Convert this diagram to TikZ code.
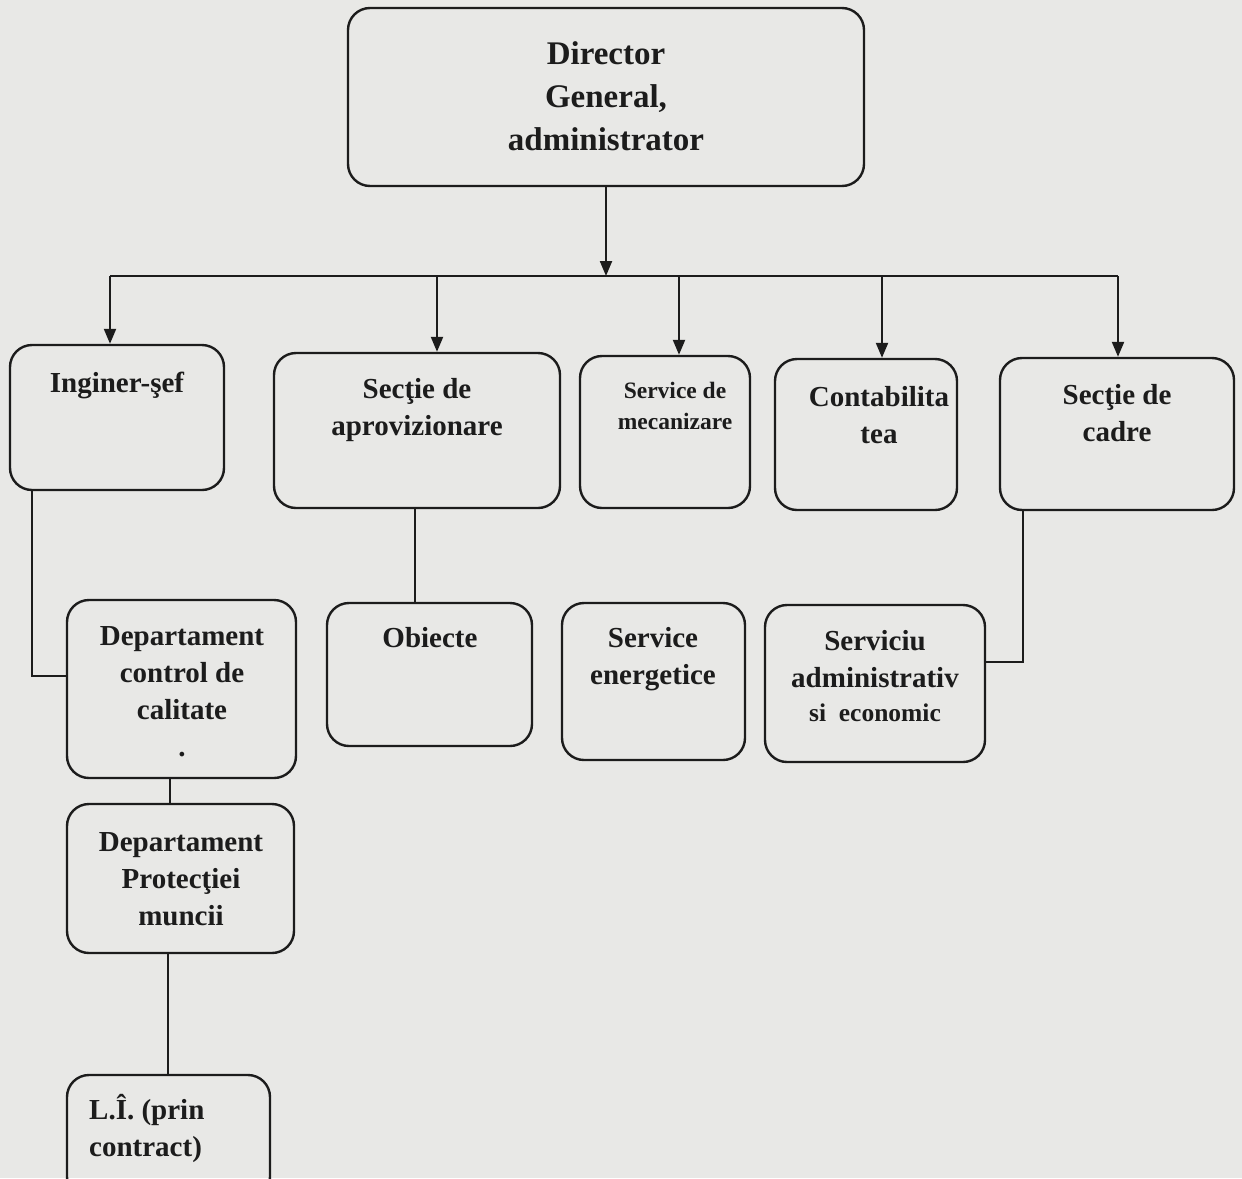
\documentclass[tikz,border=0pt]{standalone}
\usepackage{fontspec}
\setmainfont{Liberation Serif}
\usetikzlibrary{arrows.meta}
\definecolor{bgc}{RGB}{232,232,230}
\definecolor{ink}{RGB}{28,28,28}
\tikzset{
  box/.style={draw=ink, line width=2.4pt, rounded corners=22pt, inner sep=0pt},
  lbl/.style={text=ink, inner sep=0pt, align=center, font=\bfseries\fontsize{29}{37}\selectfont},
  big/.style={font=\bfseries\fontsize{33}{43}\selectfont},
  small/.style={font=\bfseries\fontsize{23.5}{31}\selectfont},
  conn/.style={draw=ink, line width=2.2pt},
  arr/.style={conn, -{Triangle[length=15pt,width=12pt]}}
}
\begin{document}
\begin{tikzpicture}[x=1pt,y=-1pt]
\useasboundingbox (0,0) rectangle (1242,1178);
\clip (0,0) rectangle (1242,1178);
\fill[bgc] (0,0) rectangle (1242,1178);

% boxes
\node[box, minimum width=516pt, minimum height=178pt] (dir) at (606,97) {};
\node[box, minimum width=214pt, minimum height=145pt] (ing) at (117,417.5) {};
\node[box, minimum width=286pt, minimum height=155pt] (sap) at (417,430.5) {};
\node[box, minimum width=170pt, minimum height=152pt] (mec) at (665,432) {};
\node[box, minimum width=182pt, minimum height=151pt] (con) at (866,434.5) {};
\node[box, minimum width=234pt, minimum height=152pt] (cad) at (1117,434) {};
\node[box, minimum width=229pt, minimum height=178pt] (dcc) at (181.5,689) {};
\node[box, minimum width=205pt, minimum height=143pt] (obi) at (429.5,674.5) {};
\node[box, minimum width=183pt, minimum height=157pt] (ene) at (653.5,681.5) {};
\node[box, minimum width=220pt, minimum height=157pt] (adm) at (875,683.5) {};
\node[box, minimum width=227pt, minimum height=149pt] (dpm) at (180.5,878.5) {};
\node[box, minimum width=203pt, minimum height=124pt] (li) at (168.5,1137) {};

% labels
\node[lbl, big] (tdir) at (606,96) {Director\\General,\\administrator};
\node[lbl] (ting) at (117,385) {Inginer-şef};
\node[lbl] (tsap) at (417,410) {Secţie de\\aprovizionare};
\node[lbl, small] (tmec) at (675,406) {Service de\\mecanizare};
\node[lbl] (tcon) at (879,415) {Contabilita\\tea};
\node[lbl] (tcad) at (1117,413) {Secţie de\\cadre};
\node[lbl] (tdcc) at (182,692) {Departament\\control de\\calitate\\.};
\node[lbl] (tobi) at (430,638) {Obiecte};
\node[lbl] (tene) at (653,659) {Service\\energetice};
\node[lbl] (tadm) at (875,659) {Serviciu\\administrativ};
\node[lbl, font=\bfseries\fontsize{25.5}{31}\selectfont] (tadm2) at (875,713) {si\ \ economic};
\node[lbl] (tdpm) at (181,879) {Departament\\Protecţiei\\muncii};
\node[lbl, align=left, anchor=west] (tli) at (89,1128) {L.Î. (prin\\contract)};

% bus
\coordinate (bus) at (606,276);
\coordinate (bL) at (110,276);
\coordinate (b2) at (437,276);
\coordinate (b3) at (679,276);
\coordinate (b4) at (882,276);
\coordinate (bR) at (1118,276);
\draw[arr] (dir.south) -- (bus);
\draw[conn] (bL) -- (bR);
\draw[arr] (bL) -- (bL |- ing.north);
\draw[arr] (b2) -- (b2 |- sap.north);
\draw[arr] (b3) -- (b3 |- mec.north);
\draw[arr] (b4) -- (b4 |- con.north);
\draw[arr] (bR) -- (bR |- cad.north);

% lower connectors
\coordinate (k1) at (32,676);
\draw[conn] (k1 |- ing.south) -- (k1) -- (k1 -| dcc.west);
\coordinate (k2) at (415,560);
\draw[conn] (k2 |- sap.south) -- (k2 |- obi.north);
\coordinate (k3) at (170,790);
\draw[conn] (k3 |- dcc.south) -- (k3 |- dpm.north);
\coordinate (k4) at (168,1000);
\draw[conn] (k4 |- dpm.south) -- (k4 |- li.north);
\coordinate (k5) at (1023,662);
\draw[conn] (k5 |- cad.south) -- (k5) -- (k5 -| adm.east);
\end{tikzpicture}
\end{document}
